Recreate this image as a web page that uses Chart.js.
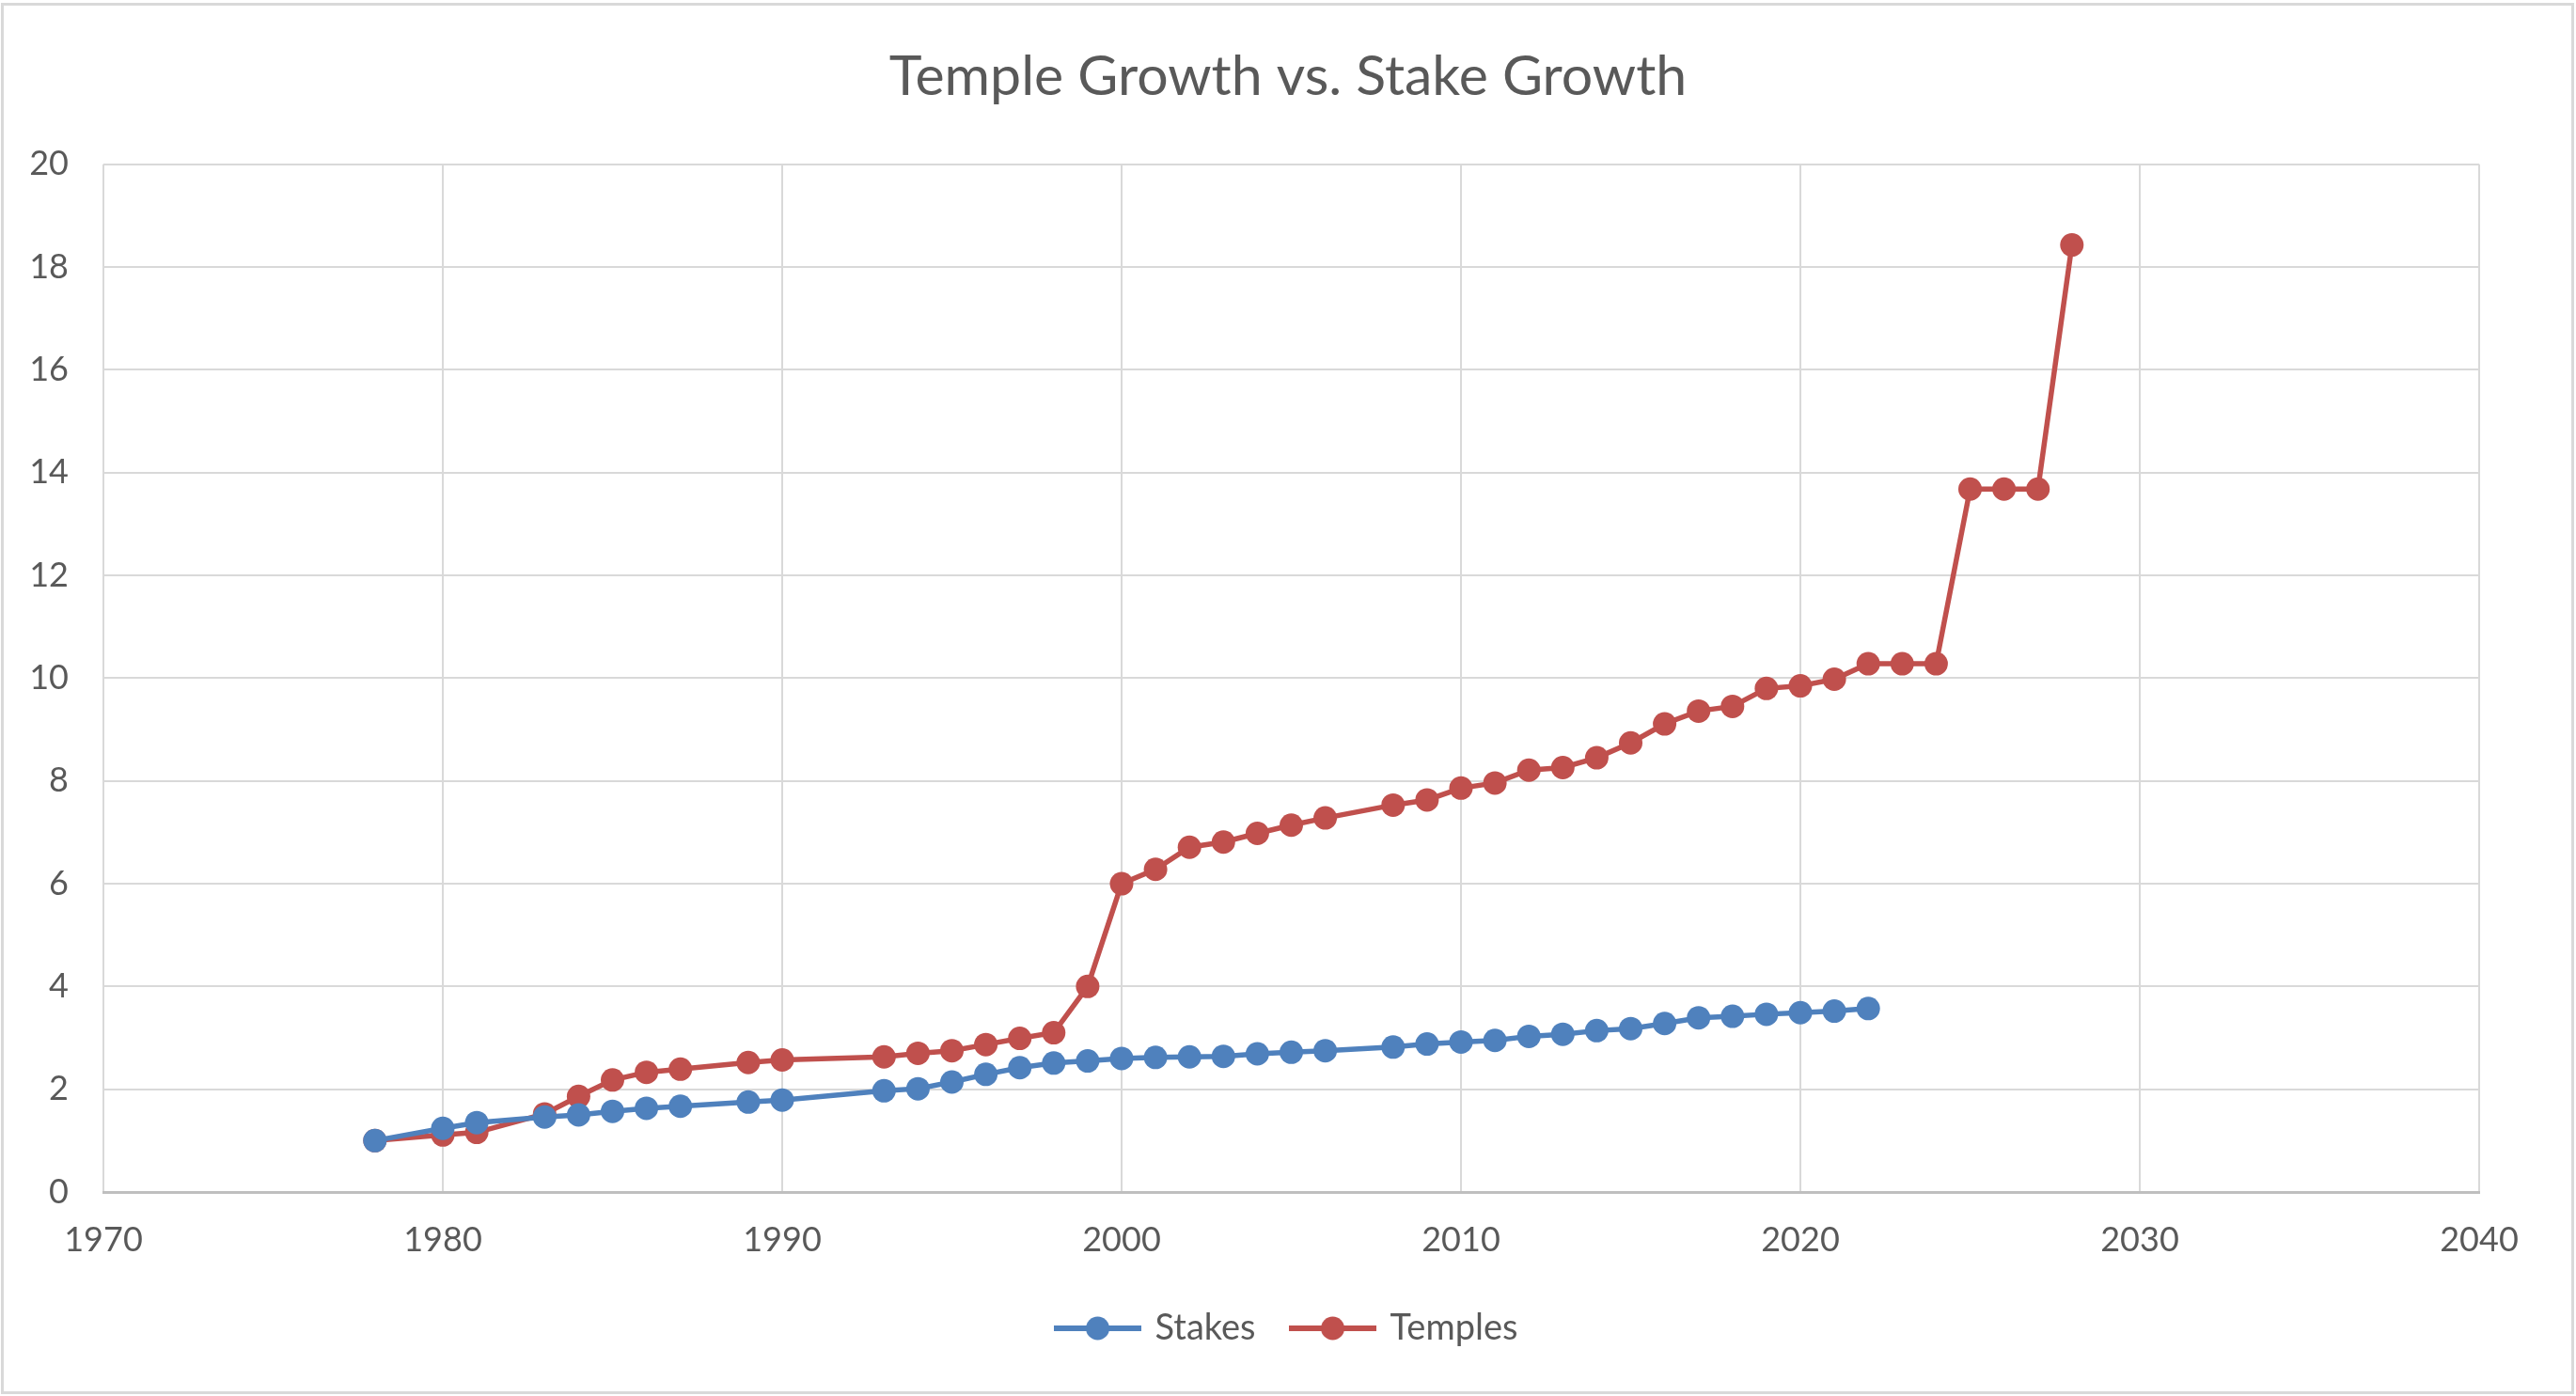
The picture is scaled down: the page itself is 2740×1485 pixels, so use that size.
<!DOCTYPE html>
<html>
<head>
<meta charset="utf-8">
<script src="https://cdn.jsdelivr.net/npm/chart.js@4.4.1/dist/chart.umd.min.js"></script>
<style>
  body { margin: 0; background: #fff; }
  #wrap { width: 2740px; height: 1485px; }
</style>
</head>
<body>
<div id="wrap"><canvas id="growthChart"></canvas></div>
<script>
// Values (1978 = 1.0)
const stakeYears = [1978, 1980, 1981, 1983, 1984, 1985, 1986, 1987, 1989, 1990, 1993, 1994, 1995, 1996, 1997, 1998, 1999,
  2000, 2001, 2002, 2003, 2004, 2005, 2006, 2008, 2009, 2010, 2011, 2012, 2013, 2014, 2015, 2016, 2017, 2018, 2019, 2020, 2021, 2022];
const stakeValues = [1.0, 1.24, 1.35, 1.46, 1.50, 1.57, 1.63, 1.67, 1.75, 1.79, 1.97, 2.01, 2.14, 2.29, 2.42, 2.51, 2.55,
  2.60, 2.62, 2.63, 2.64, 2.69, 2.72, 2.75, 2.82, 2.88, 2.92, 2.95, 3.03, 3.07, 3.14, 3.18, 3.28, 3.39, 3.42, 3.46, 3.49, 3.52, 3.57];

const templeYears = [1978, 1980, 1981, 1983, 1984, 1985, 1986, 1987, 1989, 1990, 1993, 1994, 1995, 1996, 1997, 1998, 1999,
  2000, 2001, 2002, 2003, 2004, 2005, 2006, 2008, 2009, 2010, 2011, 2012, 2013, 2014, 2015, 2016, 2017, 2018, 2019, 2020, 2021, 2022,
  2023, 2024, 2025, 2026, 2027, 2028];
const templeValues = [1.0, 1.11, 1.16, 1.52, 1.86, 2.18, 2.33, 2.39, 2.52, 2.57, 2.63, 2.70, 2.75, 2.87, 2.99, 3.10, 4.0,
  6.0, 6.28, 6.71, 6.81, 6.98, 7.14, 7.28, 7.53, 7.63, 7.86, 7.96, 8.21, 8.26, 8.45, 8.74, 9.11, 9.36, 9.45, 9.80, 9.85, 9.98, 10.28,
  10.28, 10.28, 13.68, 13.68, 13.68, 18.43];

const xTicks = [1970, 1980, 1990, 2000, 2010, 2020, 2030, 2040];
const yTicks = [0, 2, 4, 6, 8, 10, 12, 14, 16, 18, 20];

const seriesNames = ['Stakes', 'Temples'];
const seriesColors = ['#4F81BD', '#C0504D'];

const textColor = '#595959';
const fontFamily = 'Lato, "Open Sans", sans-serif';

function toPoints(xs, ys) {
  return xs.map((x, i) => ({ x: x, y: ys[i] }));
}

// little line-with-dot marker for the legend
function legendMarker(color) {
  const c = document.createElement('canvas');
  c.width = 93;
  c.height = 28;
  const g = c.getContext('2d');
  g.strokeStyle = color;
  g.lineWidth = 6;
  g.beginPath();
  g.moveTo(0, 14);
  g.lineTo(93, 14);
  g.stroke();
  g.fillStyle = color;
  g.beginPath();
  g.arc(46.5, 14, 12.5, 0, Math.PI * 2);
  g.fill();
  return c;
}

// white background + light border round the whole chart
const chartFrame = {
  id: 'chartFrame',
  beforeDraw(chart) {
    const ctx = chart.ctx;
    ctx.save();
    ctx.fillStyle = '#fff';
    ctx.fillRect(0, 0, chart.width, chart.height);
    ctx.strokeStyle = '#D9D9D9';
    ctx.lineWidth = 3;
    ctx.strokeRect(2.5, 4.5, chart.width - 6, chart.height - 8);
    ctx.restore();
  }
};

const ctx = document.getElementById('growthChart').getContext('2d');
const growthChart = new Chart(ctx, {
  type: 'scatter',
  data: {
    datasets: [
      {
        label: seriesNames[0],
        data: toPoints(stakeYears, stakeValues),
        showLine: true,
        borderColor: seriesColors[0],
        backgroundColor: seriesColors[0],
        borderWidth: 5.5,
        pointRadius: 12.5,
        pointBorderWidth: 0,
        pointHoverRadius: 12.5
      },
      {
        label: seriesNames[1],
        data: toPoints(templeYears, templeValues),
        showLine: true,
        borderColor: seriesColors[1],
        backgroundColor: seriesColors[1],
        borderWidth: 5.5,
        pointRadius: 12.5,
        pointBorderWidth: 0,
        pointHoverRadius: 12.5
      }
    ]
  },
  options: {
    responsive: true,
    maintainAspectRatio: false,
    animation: false,
    layout: {
      padding: { top: 0, left: 0, right: 0, bottom: 43 }
    },
    plugins: {
      title: {
        display: true,
        text: 'Temple Growth vs. Stake Growth',
        color: textColor,
        font: { family: fontFamily, size: 59, weight: 'normal', lineHeight: 1.2 },
        padding: { top: 47, bottom: 57 }
      },
      legend: {
        position: 'bottom',
        labels: {
          color: textColor,
          font: { family: fontFamily, size: 38 },
          usePointStyle: true,
          pointStyleWidth: 84,
          padding: 40,
          generateLabels: (chart) => chart.data.datasets.map((ds, i) => ({
            text: ds.label,
            pointStyle: legendMarker(seriesColors[i]),
            fillStyle: seriesColors[i],
            strokeStyle: seriesColors[i],
            lineWidth: 0,
            hidden: false,
            datasetIndex: i,
            fontColor: textColor
          }))
        }
      },
      tooltip: { enabled: false }
    },
    scales: {
      x: {
        type: 'linear',
        min: 1970,
        max: 2040,
        afterFit: (scale) => { scale.height = 86; },
        afterBuildTicks: (scale) => { scale.ticks = xTicks.map(v => ({ value: v })); },
        ticks: {
          color: textColor,
          font: { family: fontFamily, size: 36 },
          padding: 30,
          maxRotation: 0,
          callback: (v) => String(v)
        },
        grid: { color: '#D9D9D9', lineWidth: 2, drawTicks: false },
        border: { display: true, color: '#BFBFBF', width: 3 }
      },
      y: {
        min: 0,
        max: 20,
        afterFit: (scale) => { scale.width = 110; },
        afterBuildTicks: (scale) => { scale.ticks = yTicks.map(v => ({ value: v })); },
        ticks: {
          color: textColor,
          font: { family: fontFamily, size: 36 },
          padding: 37
        },
        grid: { color: '#D9D9D9', lineWidth: 2, drawTicks: false },
        border: { display: false }
      },
      // empty right-hand spacer so title and legend stay centred on the full width
      spacer: {
        type: 'linear',
        position: 'right',
        afterFit: (scale) => { scale.width = 103; },
        ticks: { display: false },
        grid: { display: false },
        border: { display: false }
      }
    }
  },
  plugins: [chartFrame]
});
</script>
</body>
</html>
